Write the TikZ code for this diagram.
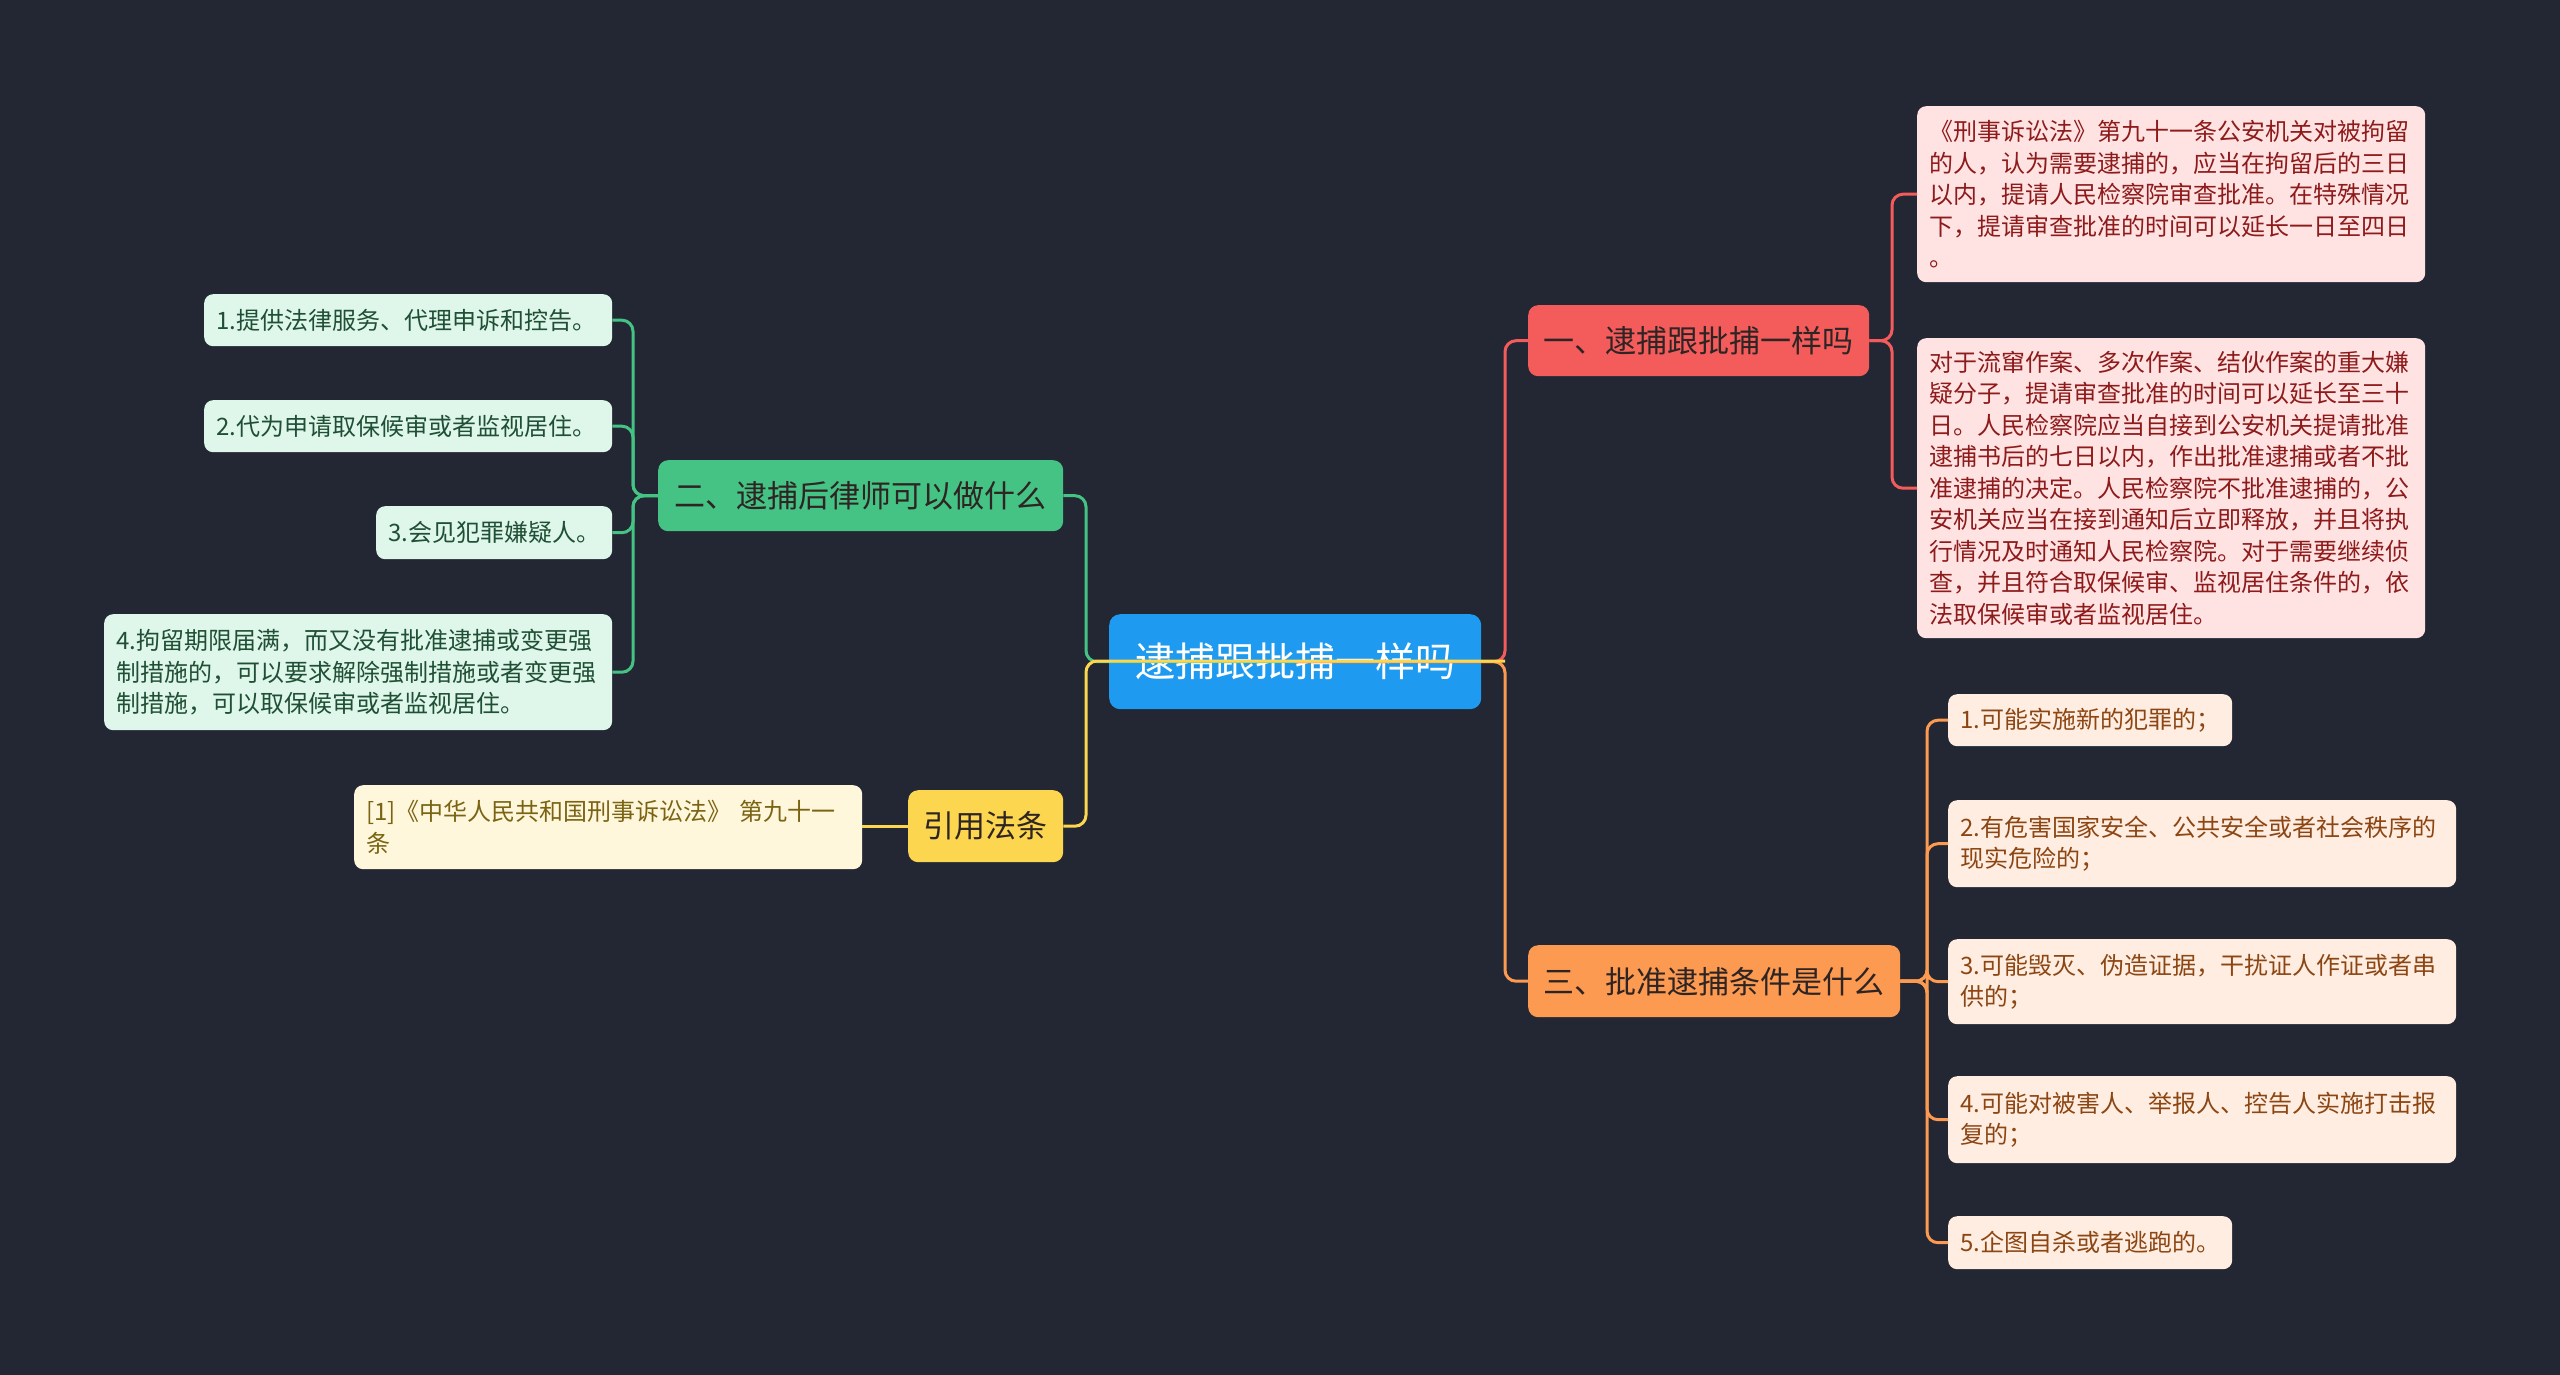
\documentclass[tikz,border=0pt]{standalone}
\usepackage{fontspec}
\setmainfont{Noto Sans CJK SC}
\definecolor{bg}{HTML}{222733}
\definecolor{rootc}{HTML}{1E9BF0}
\definecolor{redc}{HTML}{F45C5C}
\definecolor{orc}{HTML}{FB9A50}
\definecolor{grc}{HTML}{45C384}
\definecolor{yec}{HTML}{FCD64E}
\definecolor{redleaf}{HTML}{FFE3E3}
\definecolor{orleaf}{HTML}{FFEDE1}
\definecolor{grleaf}{HTML}{DFF6EA}
\definecolor{yeleaf}{HTML}{FFF7DB}
\definecolor{redtx}{HTML}{8E1B1B}
\definecolor{ortx}{HTML}{8C4613}
\definecolor{grtx}{HTML}{1F4F34}
\definecolor{yetx}{HTML}{7A6414}
\definecolor{darktx}{HTML}{2E2424}
\tikzset{
  boxbase/.style={anchor=north west, rounded corners=9pt, inner xsep=12pt, inner ysep=0pt, align=left},
  rootbox/.style={anchor=north west, rounded corners=11pt, fill=rootc, text=white, font=\fontsize{40pt}{48pt}\selectfont, align=center},
  l1box/.style={anchor=north west, rounded corners=10pt, text=darktx, font=\fontsize{31pt}{38pt}\selectfont, align=center},
  leaf/.style={boxbase, font=\fontsize{24pt}{31.5pt}\selectfont},
  conn/.style={line width=3pt, rounded corners=11pt},
}
\begin{document}
\begin{tikzpicture}[x=1pt,y=-1pt]
\fill[bg] (0,0) rectangle (2560,1375);
\useasboundingbox (0,0) rectangle (2560,1375);
% spines
\coordinate (lsp) at (1086,661);
\coordinate (rsp) at (1505,661);
\coordinate (gsp) at (633,0);
\coordinate (rlsp) at (1892,0);
\coordinate (olsp) at (1927,0);
% root
\node[rootbox, minimum width=372pt, minimum height=95pt] (root) at (1109,614) {逮捕跟批捕一样吗};
% level 1
\node[l1box, fill=grc, minimum width=405pt, minimum height=71pt] (g1) at (658,460) {二、逮捕后律师可以做什么};
\node[l1box, fill=yec, minimum width=155pt, minimum height=72pt] (y1) at (908,790) {引用法条};
\node[l1box, fill=redc, minimum width=341pt, minimum height=71pt] (r1) at (1528,305) {一、逮捕跟批捕一样吗};
\node[l1box, fill=orc, minimum width=372pt, minimum height=72pt] (o1) at (1528,945) {三、批准逮捕条件是什么};
% green leaves
\node[leaf, fill=grleaf, text=grtx, minimum width=408pt, minimum height=52pt, text width=384pt] (gl1) at (204,294) {1.提供法律服务、代理申诉和控告。};
\node[leaf, fill=grleaf, text=grtx, minimum width=408pt, minimum height=52pt, text width=384pt] (gl2) at (204,400) {2.代为申请取保候审或者监视居住。};
\node[leaf, fill=grleaf, text=grtx, minimum width=236pt, minimum height=53pt, text width=212pt] (gl3) at (376,506) {3.会见犯罪嫌疑人。};
\node[leaf, fill=grleaf, text=grtx, minimum width=508pt, minimum height=116pt, text width=484pt] (gl4) at (104,614) {4.拘留期限届满，而又没有批准逮捕或变更强\\制措施的，可以要求解除强制措施或者变更强\\制措施，可以取保候审或者监视居住。};
% yellow leaf
\node[leaf, fill=yeleaf, text=yetx, minimum width=508pt, minimum height=84pt, text width=484pt] (yl) at (354,785) {[1]《中华人民共和国刑事诉讼法》 第九十一\\条};
% red leaves
\node[leaf, fill=redleaf, text=redtx, minimum width=508pt, minimum height=176pt, text width=484pt] (rl1) at (1917,106) {《刑事诉讼法》第九十一条公安机关对被拘留\\的人，认为需要逮捕的，应当在拘留后的三日\\以内，提请人民检察院审查批准。在特殊情况\\下，提请审查批准的时间可以延长一日至四日\\。};
\node[leaf, fill=redleaf, text=redtx, minimum width=508pt, minimum height=300pt, text width=484pt] (rl2) at (1917,338) {对于流窜作案、多次作案、结伙作案的重大嫌\\疑分子，提请审查批准的时间可以延长至三十\\日。人民检察院应当自接到公安机关提请批准\\逮捕书后的七日以内，作出批准逮捕或者不批\\准逮捕的决定。人民检察院不批准逮捕的，公\\安机关应当在接到通知后立即释放，并且将执\\行情况及时通知人民检察院。对于需要继续侦\\查，并且符合取保候审、监视居住条件的，依\\法取保候审或者监视居住。};
% orange leaves
\node[leaf, fill=orleaf, text=ortx, minimum width=284pt, minimum height=52pt, text width=260pt] (ol1) at (1948,694) {1.可能实施新的犯罪的；};
\node[leaf, fill=orleaf, text=ortx, minimum width=508pt, minimum height=87pt, text width=484pt] (ol2) at (1948,800) {2.有危害国家安全、公共安全或者社会秩序的\\现实危险的；};
\node[leaf, fill=orleaf, text=ortx, minimum width=508pt, minimum height=85pt, text width=484pt] (ol3) at (1948,939) {3.可能毁灭、伪造证据，干扰证人作证或者串\\供的；};
\node[leaf, fill=orleaf, text=ortx, minimum width=508pt, minimum height=87pt, text width=484pt] (ol4) at (1948,1076) {4.可能对被害人、举报人、控告人实施打击报\\复的；};
\node[leaf, fill=orleaf, text=ortx, minimum width=284pt, minimum height=53pt, text width=260pt] (ol5) at (1948,1216) {5.企图自杀或者逃跑的。};
% root connectors
\draw[conn, grc] (root.center) -| (lsp|-g1.east) -- (g1.east);
\draw[conn, redc] (root.center) -| (rsp|-r1.west) -- (r1.west);
\draw[conn, orc] (root.center) -| (rsp|-o1.west) -- (o1.west);
\draw[conn, yec] (rsp) -| (lsp|-y1.east) -- (y1.east);
% green leaf connectors
\foreach \n in {gl1,gl2,gl3,gl4}
  \draw[conn, grc] (g1.west) -| (gsp|-\n.east) -- (\n.east);
% yellow leaf connector
\draw[conn, yec] (y1.west) -- (yl.east|-y1.west);
% red leaf connectors
\foreach \n in {rl1,rl2}
  \draw[conn, redc] (r1.east) -| (rlsp|-\n.west) -- (\n.west);
% orange leaf connectors
\foreach \n in {ol1,ol2,ol3,ol4,ol5}
  \draw[conn, orc] (o1.east) -| (olsp|-\n.west) -- (\n.west);
\end{tikzpicture}
\end{document}
